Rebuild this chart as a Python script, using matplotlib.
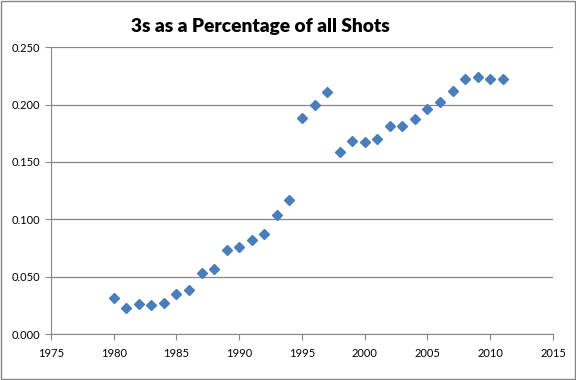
import matplotlib.pyplot as plt
from matplotlib.patches import Rectangle

years = list(range(1980, 2012))
pct = [0.031, 0.023, 0.026, 0.025, 0.027, 0.035, 0.038, 0.053, 0.057, 0.073,
       0.076, 0.082, 0.087, 0.104, 0.117, 0.188, 0.200, 0.211, 0.159, 0.168,
       0.167, 0.170, 0.181, 0.181, 0.187, 0.196, 0.202, 0.212, 0.222, 0.224,
       0.222, 0.222]

xticks = [1975, 1980, 1985, 1990, 1995, 2000, 2005, 2010, 2015]
yticks = [0.0, 0.05, 0.10, 0.15, 0.20, 0.25]

plt.rcParams['font.family'] = ['Lato', 'DejaVu Sans']

fig = plt.figure(figsize=(5.76, 3.8), dpi=100)
ax = fig.add_axes([0.0885, 0.121, 0.8715, 0.755])

ax.plot(years, pct, linestyle='none', marker='D', markersize=5,
        color='#4a7ebb', markeredgecolor='#4a7ebb')

ax.set_xlim(1975, 2015)
ax.set_ylim(0, 0.25)
ax.set_xticks(xticks)
ax.set_yticks(yticks)
ax.set_yticklabels(['%.3f' % v for v in yticks])
ax.tick_params(labelsize=8, colors='#868686', labelcolor='black', length=4)
ax.tick_params(axis='x', pad=6)

ax.grid(axis='y', color='#868686', linewidth=0.9)
ax.set_axisbelow(True)
for side in ['top', 'right']:
    ax.spines[side].set_visible(False)
for side in ['left', 'bottom']:
    ax.spines[side].set_color('#868686')

fig.text(0.452, 0.929, '3s as a Percentage of all Shots', ha='center', va='center',
         fontsize=13.8, fontweight='heavy')

fig.patches.append(Rectangle((0.002, 0.003), 0.996, 0.994, transform=fig.transFigure,
                             fill=False, edgecolor='#868686', linewidth=1))

fig.savefig('out.png', dpi=100)
